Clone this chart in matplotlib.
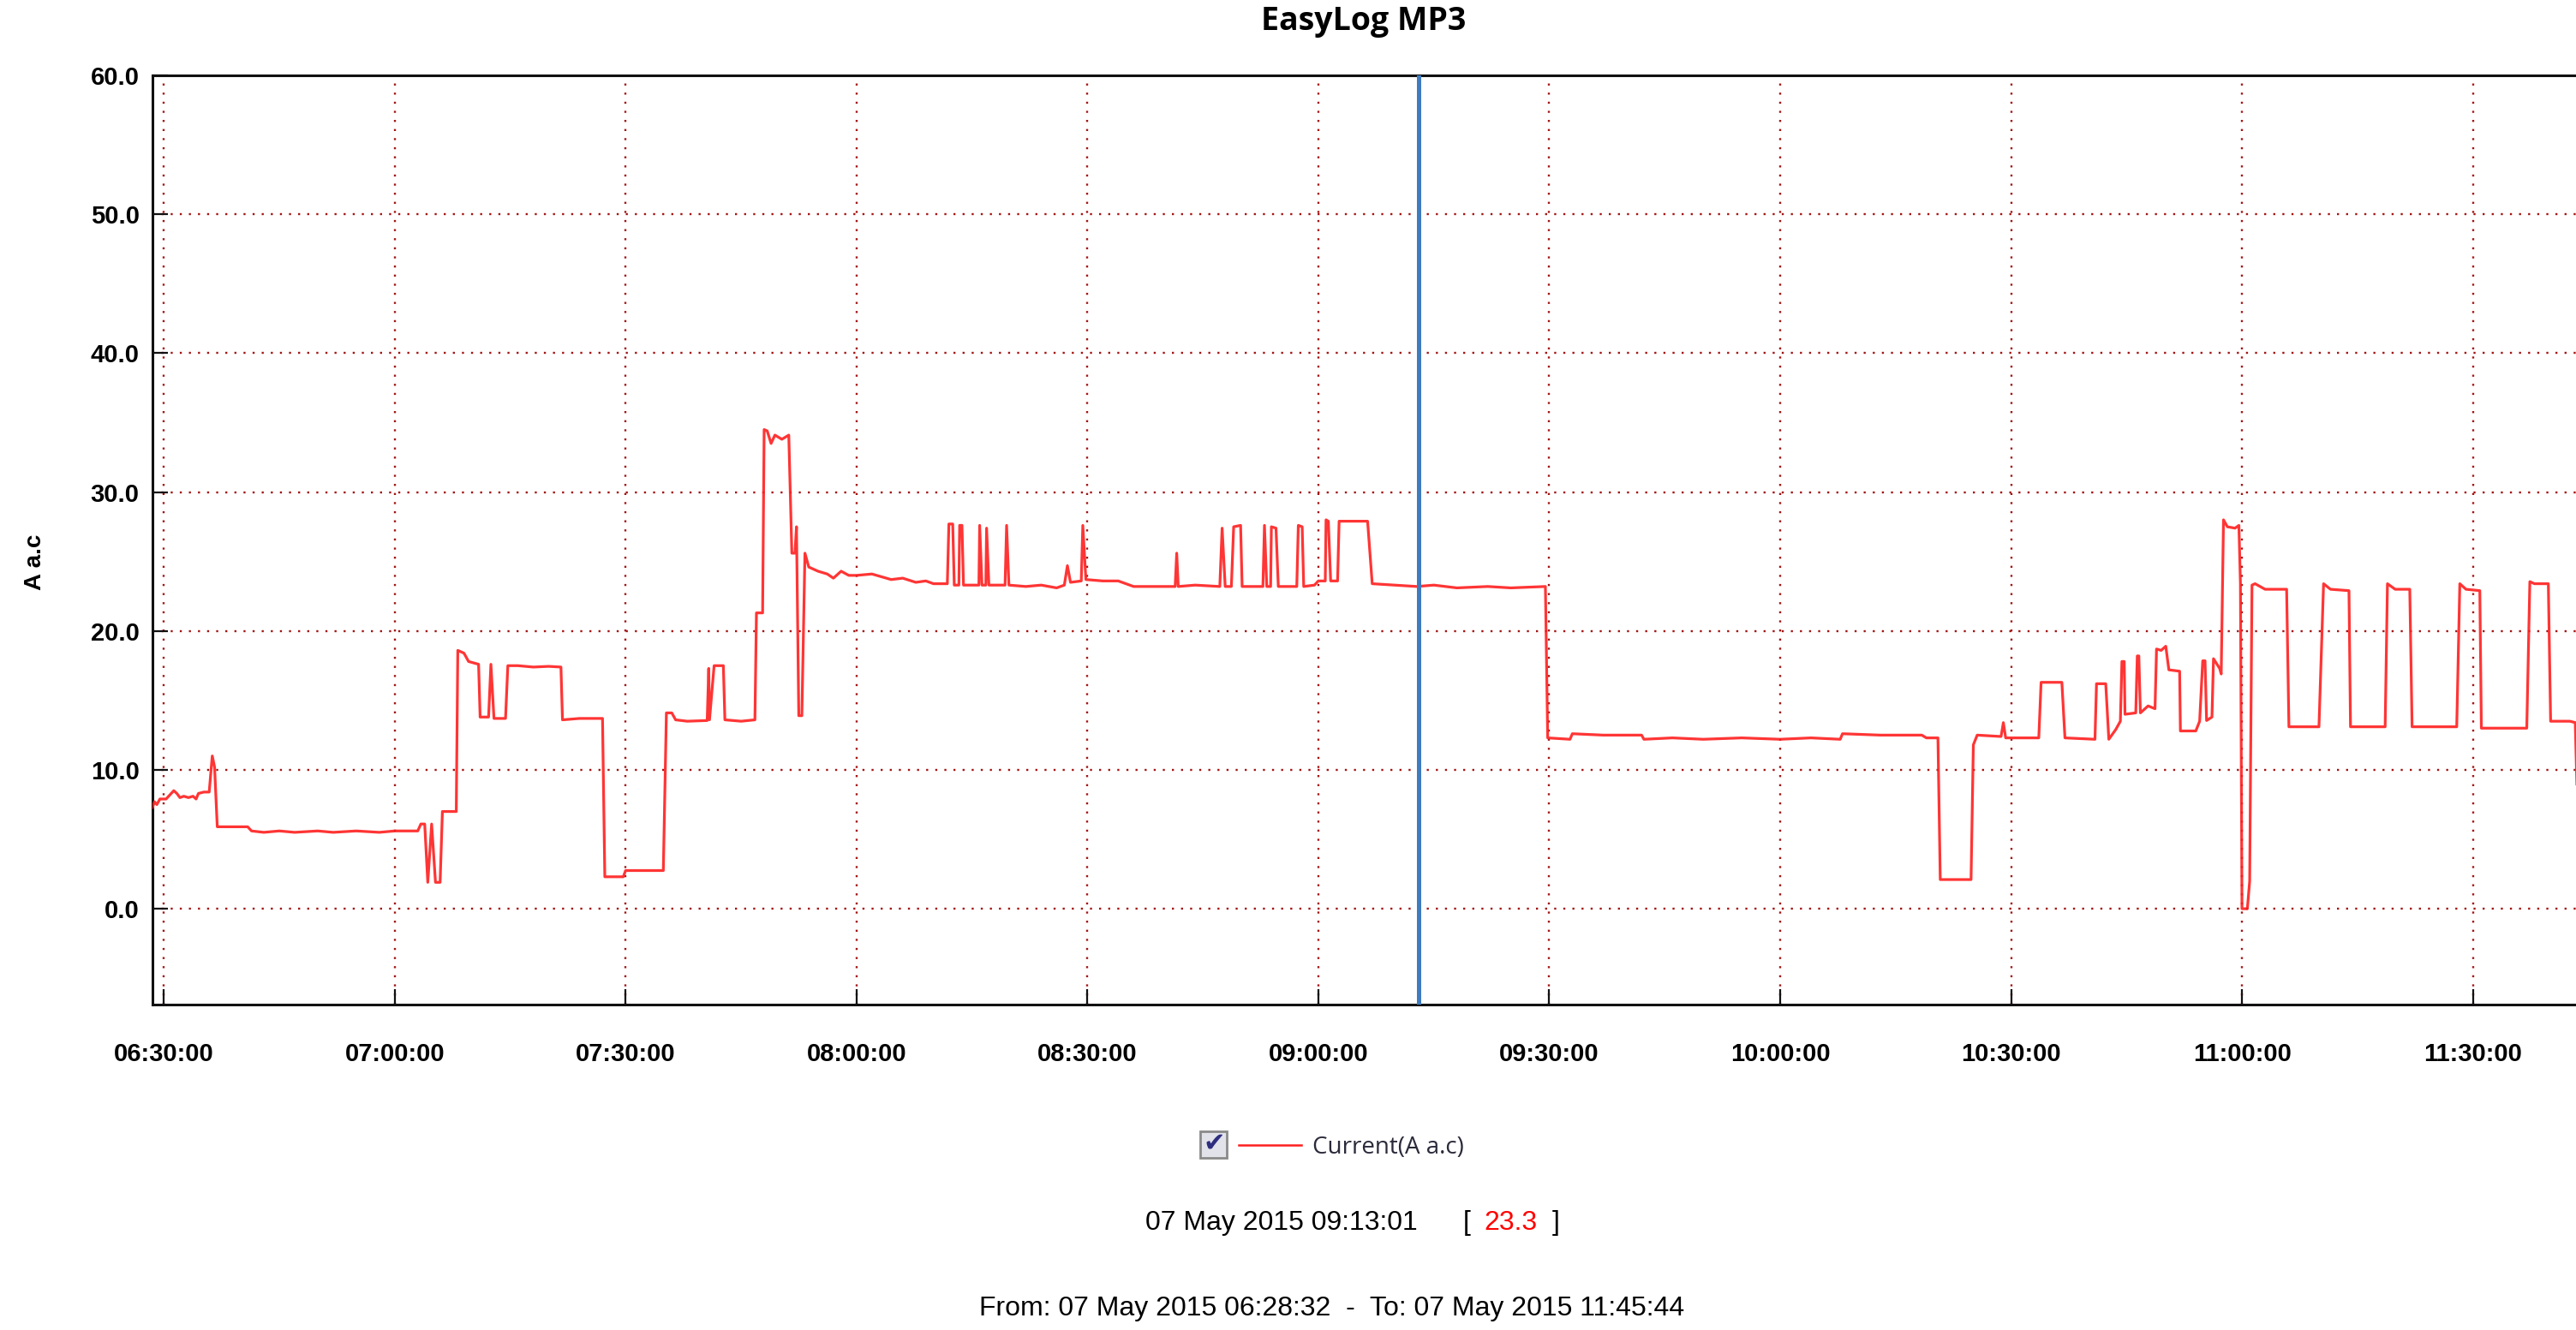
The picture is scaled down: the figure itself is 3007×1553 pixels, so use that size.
import matplotlib
matplotlib.use('Agg')
import pandas as pd
import matplotlib.pyplot as plt
import matplotlib.dates as mdates
from matplotlib.patches import Rectangle
from matplotlib.lines import Line2D

# Logger readings: minutes after 06:30:00 and current (A a.c)
minutes = [
    -1.47, -1.2, -0.9, -0.5, 0.3, 0.8, 1.3, 1.7, 2.1, 2.6, 3.2, 3.8, 4.2, 4.5, 5.2, 5.9, 6.3, 6.6, 6.95,
    10.9, 11.4, 13, 15, 17, 20, 22, 25, 28, 30, 33.0, 33.4, 33.9, 34.3, 34.8, 35.3, 35.9, 36.2, 38.0,
    38.2, 39.0, 39.6, 40.9, 41.1, 42.2, 42.5, 42.9, 44.4, 44.7, 46, 48, 50, 51.6, 51.8, 54, 57.0, 57.3, 59.7, 60.0, 64.9,
    65.3, 66.0, 66.5, 68, 70.6, 70.8, 70.9, 71.5, 72.7, 72.9, 75, 76.8, 77.0, 77.8, 78.0, 78.4, 78.9, 79.4, 80.3, 81.2,
    81.6, 82.0, 82.2, 82.5, 82.9, 83.3, 83.8, 85, 86.2, 87, 88.0, 89, 90, 92, 94.5, 96, 97.7, 99, 100, 101.8,
    102.0, 102.5, 102.7, 103.3, 103.4, 103.7, 103.9, 105.9, 106.0, 106.3, 106.8, 106.9, 107.2, 109.3, 109.5, 109.8, 112, 114, 116, 117.0,
    117.4, 117.8, 119.2, 119.4, 119.8, 122, 124, 126, 128, 131.4, 131.6, 131.8, 134, 137.2, 137.5, 137.9, 138.7, 139.0, 139.9, 140.1,
    142.8, 143.0, 143.3, 143.8, 143.9, 144.5, 144.8, 147.2, 147.4, 147.9, 148.1, 149.5, 150.0, 150.9, 151.0, 151.3, 151.6, 152.5, 152.7, 156.4, 157.0,
    160, 162.8, 165, 168, 172, 175, 179.5, 179.8, 182.7, 183.0, 187, 192.0, 192.3, 196, 200, 205, 210, 214, 217.8, 218.1,
    223, 228.4, 229.0, 230.5, 230.8, 234.8, 235.1, 235.6, 238.7, 239.0, 239.3, 243.6, 243.9, 246.6, 247.0, 250.9, 251.1, 252.3, 252.7,
    253.6, 254.2, 254.4, 254.7, 254.8, 256.2, 256.4, 256.6, 256.8, 257.8, 258.7, 258.9, 259.5, 260.1, 260.5, 261.9, 262.0, 264.0, 264.5, 264.9,
    265.2, 265.4, 266.1, 266.3, 267.1, 267.3, 267.6, 268.1, 269.1, 269.6, 269.8, 270.0, 270.7, 271.0, 271.3, 271.7, 273.0, 275.8, 276.1, 280.0,
    280.6, 281.5, 283.9, 284.1, 288.6, 288.9, 289.9, 291.8, 292.1, 297.9, 298.3, 299.1, 300.9, 301.1, 307.0, 307.4, 308.0, 309.8, 310.1, 312.6, 313.3, 313.6, 315.7,
]
current = [
    7.3, 7.7, 7.5, 7.9, 7.9, 8.2, 8.5, 8.3, 8.0, 8.1, 8.0, 8.1, 7.9, 8.3, 8.4, 8.4, 11.0, 10.2, 5.9,
    5.9, 5.6, 5.5, 5.6, 5.5, 5.6, 5.5, 5.6, 5.5, 5.6, 5.6, 6.1, 6.1, 1.9, 6.1, 1.9, 1.9, 7.0, 7.0,
    18.6, 18.4, 17.8, 17.6, 13.8, 13.8, 17.6, 13.7, 13.7, 17.5, 17.5, 17.4, 17.45, 17.4, 13.6, 13.7, 13.7, 2.3, 2.3, 2.75, 2.75,
    14.1, 14.1, 13.6, 13.5, 13.55, 17.3, 13.6, 17.5, 17.5, 13.6, 13.5, 13.6, 21.3, 21.3, 34.5, 34.4, 33.5, 34.1, 33.8, 34.1,
    25.6, 25.6, 27.5, 13.9, 13.9, 25.6, 24.6, 24.3, 24.1, 23.8, 24.3, 24.0, 24.0, 24.1, 23.7, 23.8, 23.5, 23.6, 23.4, 23.4,
    27.7, 27.7, 23.3, 23.3, 27.6, 27.6, 23.3, 23.3, 27.6, 23.3, 23.3, 27.4, 23.3, 23.3, 27.6, 23.3, 23.2, 23.3, 23.1, 23.3,
    24.7, 23.5, 23.6, 27.6, 23.7, 23.6, 23.6, 23.2, 23.2, 23.2, 25.6, 23.2, 23.3, 23.2, 27.4, 23.2, 23.2, 27.5, 27.6, 23.2,
    23.2, 27.6, 23.2, 23.2, 27.5, 27.4, 23.2, 23.2, 27.6, 27.5, 23.2, 23.3, 23.6, 23.6, 28.0, 27.9, 23.6, 23.6, 27.9, 27.9, 23.4,
    23.3, 23.2, 23.3, 23.1, 23.2, 23.1, 23.2, 12.3, 12.2, 12.6, 12.5, 12.5, 12.2, 12.3, 12.2, 12.3, 12.2, 12.3, 12.2, 12.6,
    12.5, 12.5, 12.3, 12.3, 2.1, 2.1, 11.8, 12.5, 12.4, 13.4, 12.3, 12.3, 16.3, 16.3, 12.3, 12.2, 16.2, 16.2, 12.2,
    12.9, 13.5, 17.8, 17.8, 14.0, 14.1, 18.2, 18.2, 14.1, 14.6, 14.4, 18.7, 18.6, 18.9, 17.2, 17.1, 12.8, 12.8, 13.5, 17.85,
    17.85, 13.55, 13.8, 18.0, 17.3, 16.9, 28.0, 27.5, 27.4, 27.6, 23.4, 0.0, 0.0, 2.0, 23.3, 23.4, 23.0, 23.0, 13.1, 13.1,
    23.4, 23.0, 22.9, 13.1, 13.1, 23.4, 23.0, 23.0, 13.1, 13.1, 23.4, 23.0, 22.9, 13.0, 13.0, 23.55, 23.4, 23.4, 13.5, 13.5, 13.4, 7.0, 7.0,
]

day = '2015-05-07'
start_time = '06:28:32'
end_time = '11:45:44'
cursor_time = '09:13:01'
cursor_value = 23.3
y_ticks = [0, 10, 20, 30, 40, 50, 60]

base = pd.Timestamp(day + ' 06:30:00')
times = base + pd.to_timedelta(minutes, unit='m')

W, H = 3007, 1553
fx = lambda x: x / W
fy = lambda y: 1 - y / H

fig = plt.figure(figsize=(W / 100, H / 100), dpi=100, facecolor='white')
ax = fig.add_axes([fx(178), fy(1173), (3028 - 178) / W, (1173 - 88) / H])

ax.plot(times, current, color='#ff1f1f', lw=2.3, alpha=0.9, zorder=3)
ax.axvline(pd.Timestamp(day + ' ' + cursor_time), color='#3e7cbd', lw=3.6, zorder=4)

ax.set_xlim(pd.Timestamp(day + ' ' + start_time), pd.Timestamp(day + ' ' + end_time))
ax.set_ylim(-6.9, 60)
ax.set_yticks(y_ticks)
ax.yaxis.set_major_formatter(plt.FormatStrFormatter('%.1f'))
ax.xaxis.set_major_locator(mdates.MinuteLocator(byminute=[0, 30]))
ax.xaxis.set_major_formatter(mdates.DateFormatter('%H:%M:%S'))

ax.grid(True, color='#a31515', linestyle=(0, (1, 3.5)), lw=1.7)
ax.set_axisbelow(True)
for side in ['left', 'bottom', 'top']:
    ax.spines[side].set_linewidth(2.2)
    ax.spines[side].set_color('#111111')
ax.spines['right'].set_visible(False)

ax.tick_params(direction='in', length=13, width=1.6, color='#111111')
ax.tick_params(axis='y', pad=11)
ax.tick_params(axis='x', pad=32)
for lab in ax.get_xticklabels() + ax.get_yticklabels():
    lab.set_fontfamily('Liberation Sans')
    lab.set_fontweight('bold')
    lab.set_fontsize(21)

fig.text(fx(1592), fy(25), 'EasyLog MP3', ha='center', va='center', fontsize=27,
         fontweight='bold', family='Open Sans')
fig.text(fx(41), fy(656), 'A a.c', rotation=90, ha='center', va='center', fontsize=20,
         fontweight='bold', family='Liberation Sans')

# legend row with checkbox
fig.patches.append(Rectangle((fx(1401), fy(1352)), 31 / W, 31 / H, transform=fig.transFigure,
                             facecolor='#e2e2ea', edgecolor='#8a8a8a', lw=2))
fig.text(fx(1417), fy(1335), '\u2714', ha='center', va='center', fontsize=22,
         color='#2e2e80', family='DejaVu Sans')
fig.add_artist(Line2D([fx(1446), fx(1519)], [fy(1337), fy(1337)], transform=fig.transFigure,
                      color='#ff1f1f', lw=1.8))
fig.text(fx(1532), fy(1340), 'Current(A a.c)', ha='left', va='center', fontsize=20,
         color='#2a2a3a', family='Open Sans')

# cursor readout
fig.text(fx(1337), fy(1428), '07 May 2015 ' + cursor_time, ha='left', va='center', fontsize=23,
         family='Liberation Sans')
fig.text(fx(1708), fy(1428), '[', ha='left', va='center', fontsize=23, family='Liberation Sans')
fig.text(fx(1732), fy(1428), '%.1f' % cursor_value, ha='left', va='center', fontsize=23,
         color='#ff0000', family='Liberation Sans')
fig.text(fx(1812), fy(1428), ']', ha='left', va='center', fontsize=23, family='Liberation Sans')

fig.text(fx(1555), fy(1528), 'From: 07 May 2015 ' + start_time + '  -  To: 07 May 2015 ' + end_time,
         ha='center', va='center', fontsize=23, family='Liberation Sans')

fig.savefig('out.png', dpi=100, facecolor='white')
